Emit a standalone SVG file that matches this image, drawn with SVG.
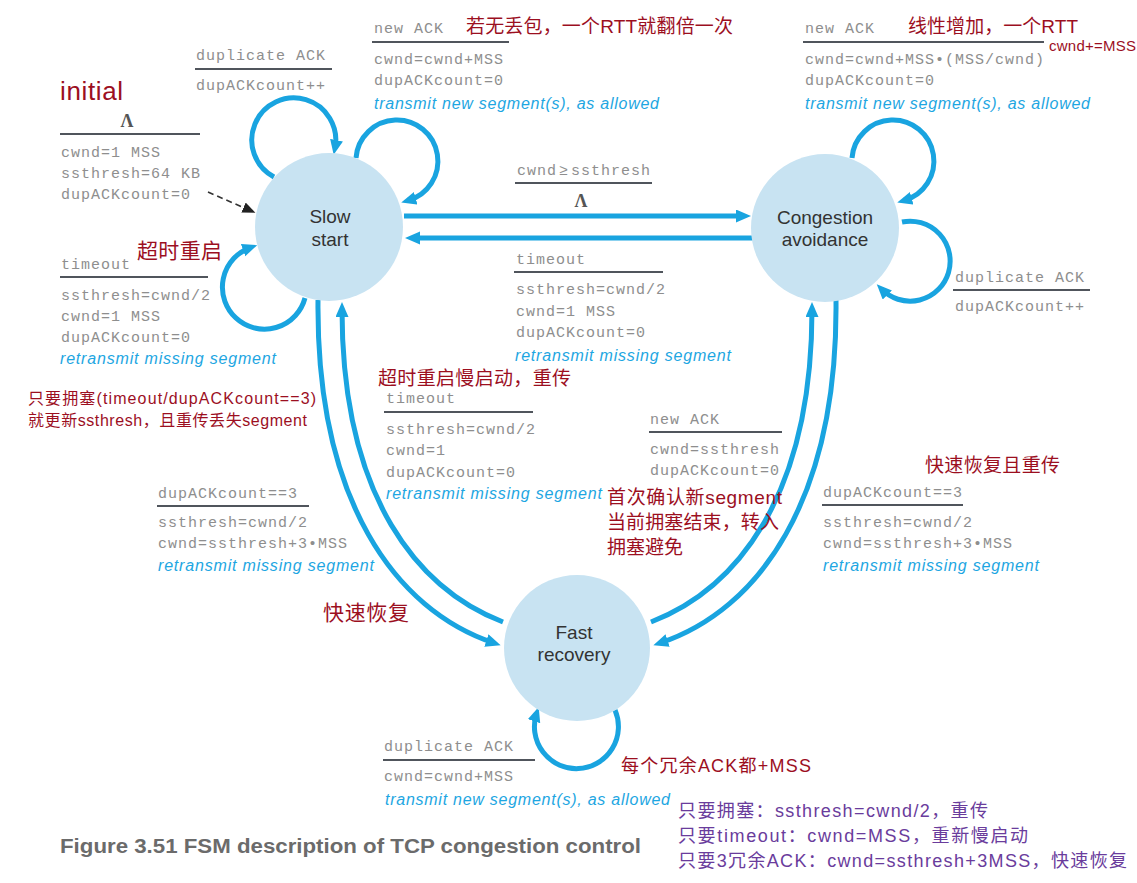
<svg xmlns="http://www.w3.org/2000/svg" width="1137" height="883" viewBox="0 0 1137 883">
<defs>
<marker id="ab" markerUnits="userSpaceOnUse" markerWidth="16" markerHeight="14" refX="8" refY="6.5" orient="auto"><path d="M0,0 L15,6.5 L0,13 z" fill="#19a4e0"/></marker>
<marker id="ak" markerUnits="userSpaceOnUse" markerWidth="14" markerHeight="12" refX="6" refY="5.5" orient="auto"><path d="M0,0 L13,5.5 L0,11 z" fill="#222"/></marker>
<style>
.st{fill:#c8e3f2}
.sn{font-family:"Liberation Sans",Arial,sans-serif;font-size:19px;fill:#333;text-anchor:middle}
.m{font-family:"Liberation Mono","Courier New",monospace;font-size:15px;letter-spacing:1px;fill:#8e8e8e}
.b{font-family:"Liberation Sans",Arial,sans-serif;font-style:italic;font-size:16px;fill:#1da6e2}
.r{font-family:"Liberation Sans","Noto Sans CJK SC",sans-serif;font-size:19px;fill:#9c0f1f}
.p{font-family:"Liberation Sans","Noto Sans CJK SC",sans-serif;font-size:18px;fill:#6a3c9c}
.lam{font-family:"Liberation Serif","Times New Roman",serif;font-size:18px;font-weight:bold;fill:#555;text-anchor:middle}
.u{stroke:#50555c;stroke-width:2}
.c{fill:none;stroke:#19a4e0;stroke-width:5}
</style>
</defs>
<rect width="1137" height="883" fill="#fff"/>

<g id="connectors">
<path class="c" d="M274,177 A42,42 0 1 1 335,148" marker-end="url(#ab)"/>
<path class="c" d="M356,158 A41,41 0 1 1 408,200.5" marker-end="url(#ab)"/>
<path class="c" d="M305,298 A42,42 0 1 1 250.6,247.5" marker-end="url(#ab)"/>
<path class="c" d="M852,158 A41,41 0 1 1 904,200.5" marker-end="url(#ab)"/>
<path class="c" d="M902,222 A40,40 0 1 1 881.7,289.3" marker-end="url(#ab)"/>
<path class="c" d="M615,710 A42,42 0 1 1 536.5,713.6" marker-end="url(#ab)"/>
<path class="c" d="M404,216 L744,216" marker-end="url(#ab)"/>
<path class="c" d="M753,238 L412,238" marker-end="url(#ab)"/>
<path class="c" d="M318,300 C316,500 395,610 494,643" marker-end="url(#ab)"/>
<path class="c" d="M503,622 C420,590 342,500 342,309" marker-end="url(#ab)"/>
<path class="c" d="M836,300 C838,500 759,610 660,643" marker-end="url(#ab)"/>
<path class="c" d="M651,622 C734,590 812,500 812,309" marker-end="url(#ab)"/>
<path d="M208,192 L249,210" fill="none" stroke="#333" stroke-width="1.6" stroke-dasharray="6,4" marker-end="url(#ak)"/>
</g>

<g id="slow-start">
<circle class="st" cx="329" cy="227" r="74"/>
<text class="sn" x="330" y="223">Slow</text>
<text class="sn" x="330" y="246">start</text>
</g>
<g id="congestion-avoidance">
<circle class="st" cx="825" cy="228" r="74"/>
<text class="sn" x="825" y="224">Congestion</text>
<text class="sn" x="825" y="246">avoidance</text>
</g>
<g id="fast-recovery">
<circle class="st" cx="577" cy="648" r="73"/>
<text class="sn" x="574" y="639">Fast</text>
<text class="sn" x="574" y="661">recovery</text>
</g>

<g id="label-initial">
<text class="r" x="60" y="100" style="font-size:26px" textLength="63">initial</text>
<text class="lam" x="127" y="127">Λ</text>
<line class="u" x1="60" y1="134" x2="200" y2="134"/>
<text class="m" x="61" y="157">cwnd=1 MSS</text>
<text class="m" x="61" y="178">ssthresh=64 KB</text>
<text class="m" x="61" y="199">dupACKcount=0</text>
</g>

<g id="label-ss-dup">
<text class="m" x="196" y="60">duplicate ACK</text>
<line class="u" x1="195" y1="69" x2="332" y2="69"/>
<text class="m" x="196" y="90">dupACKcount++</text>
</g>

<g id="label-ss-new">
<text class="m" x="374" y="33">new ACK</text>
<text class="r" x="466" y="33" textLength="267">若无丢包，一个RTT就翻倍一次</text>
<line class="u" x1="372" y1="42" x2="509" y2="42"/>
<text class="m" x="374" y="64">cwnd=cwnd+MSS</text>
<text class="m" x="374" y="85">dupACKcount=0</text>
<text class="b" x="374" y="109" textLength="285">transmit new segment(s), as allowed</text>
</g>

<g id="label-ca-new">
<text class="m" x="805" y="33">new ACK</text>
<text class="r" x="908" y="33" textLength="170">线性增加，一个RTT</text>
<line class="u" x1="803" y1="42" x2="1044" y2="42"/>
<text class="r" x="1049" y="51" style="font-size:15px" textLength="87">cwnd+=MSS</text>
<text class="m" x="805" y="64">cwnd=cwnd+MSS•(MSS/cwnd)</text>
<text class="m" x="805" y="85">dupACKcount=0</text>
<text class="b" x="805" y="109" textLength="285">transmit new segment(s), as allowed</text>
</g>

<g id="label-ss-ca">
<text class="m" x="517" y="175">cwnd<tspan dx="2">≥</tspan><tspan dx="2">ssthresh</tspan></text>
<line class="u" x1="515" y1="183" x2="652" y2="183"/>
<text class="lam" x="581" y="207">Λ</text>
</g>

<g id="label-ca-ss">
<text class="m" x="516" y="264">timeout</text>
<line class="u" x1="514" y1="272" x2="663" y2="272"/>
<text class="m" x="516" y="294">ssthresh=cwnd/2</text>
<text class="m" x="516" y="316">cwnd=1 MSS</text>
<text class="m" x="516" y="337">dupACKcount=0</text>
<text class="b" x="515" y="361" textLength="216">retransmit missing segment</text>
</g>

<g id="label-ca-dup">
<text class="m" x="955" y="282">duplicate ACK</text>
<line class="u" x1="953" y1="290" x2="1090" y2="290"/>
<text class="m" x="955" y="311">dupACKcount++</text>
</g>

<g id="label-ss-timeout">
<text class="r" x="137" y="258" style="font-size:21px" textLength="85">超时重启</text>
<text class="m" x="61" y="269">timeout</text>
<line class="u" x1="60" y1="277" x2="208" y2="277"/>
<text class="m" x="61" y="300">ssthresh=cwnd/2</text>
<text class="m" x="61" y="321">cwnd=1 MSS</text>
<text class="m" x="61" y="342">dupACKcount=0</text>
<text class="b" x="60" y="364" textLength="216">retransmit missing segment</text>
</g>

<g id="note-congestion">
<text class="r" x="28" y="404" style="font-size:16px" textLength="288">只要拥塞(timeout/dupACKcount==3)</text>
<text class="r" x="28" y="426" style="font-size:16px" textLength="279">就更新ssthresh，且重传丢失segment</text>
</g>

<g id="label-fr-ss">
<text class="r" x="378" y="385" textLength="193">超时重启慢启动，重传</text>
<text class="m" x="386" y="403">timeout</text>
<line class="u" x1="384" y1="412" x2="533" y2="412"/>
<text class="m" x="386" y="434">ssthresh=cwnd/2</text>
<text class="m" x="386" y="455">cwnd=1</text>
<text class="m" x="386" y="477">dupACKcount=0</text>
<text class="b" x="386" y="499" textLength="216">retransmit missing segment</text>
</g>

<g id="label-fr-ca">
<text class="m" x="650" y="424">new ACK</text>
<line class="u" x1="649" y1="432" x2="782" y2="432"/>
<text class="m" x="650" y="454">cwnd=ssthresh</text>
<text class="m" x="650" y="475">dupACKcount=0</text>
<text class="r" x="607" y="504" textLength="175">首次确认新segment</text>
<text class="r" x="607" y="529" textLength="172">当前拥塞结束，转入</text>
<text class="r" x="607" y="554" textLength="76">拥塞避免</text>
</g>

<g id="label-ca-fr">
<text class="r" x="925" y="472" textLength="135">快速恢复且重传</text>
<text class="m" x="823" y="497">dupACKcount==3</text>
<line class="u" x1="822" y1="505" x2="963" y2="505"/>
<text class="m" x="823" y="527">ssthresh=cwnd/2</text>
<text class="m" x="823" y="548">cwnd=ssthresh+3•MSS</text>
<text class="b" x="823" y="571" textLength="216">retransmit missing segment</text>
</g>

<g id="label-ss-fr">
<text class="m" x="158" y="498">dupACKcount==3</text>
<line class="u" x1="157" y1="506" x2="309" y2="506"/>
<text class="m" x="158" y="527">ssthresh=cwnd/2</text>
<text class="m" x="158" y="548">cwnd=ssthresh+3•MSS</text>
<text class="b" x="158" y="571" textLength="216">retransmit missing segment</text>
<text class="r" x="323" y="620" style="font-size:21px" textLength="86">快速恢复</text>
</g>

<g id="label-fr-dup">
<text class="m" x="384" y="751">duplicate ACK</text>
<line class="u" x1="383" y1="760" x2="535" y2="760"/>
<text class="m" x="384" y="781">cwnd=cwnd+MSS</text>
<text class="b" x="385" y="805" textLength="285">transmit new segment(s), as allowed</text>
<text class="r" x="621" y="772" style="font-size:18px" textLength="190">每个冗余ACK都+MSS</text>
</g>

<g id="summary">
<text class="p" x="678" y="817" textLength="310">只要拥塞：ssthresh=cwnd/2，重传</text>
<text class="p" x="678" y="842" textLength="350">只要timeout：cwnd=MSS，重新慢启动</text>
<text class="p" x="678" y="867" textLength="449">只要3冗余ACK：cwnd=ssthresh+3MSS，快速恢复</text>
</g>

<text x="60" y="853" font-family="Liberation Sans, Arial, sans-serif" font-weight="bold" font-size="20" fill="#6b6b6b" textLength="581" lengthAdjust="spacingAndGlyphs">Figure 3.51 FSM description of TCP congestion control</text>
</svg>
